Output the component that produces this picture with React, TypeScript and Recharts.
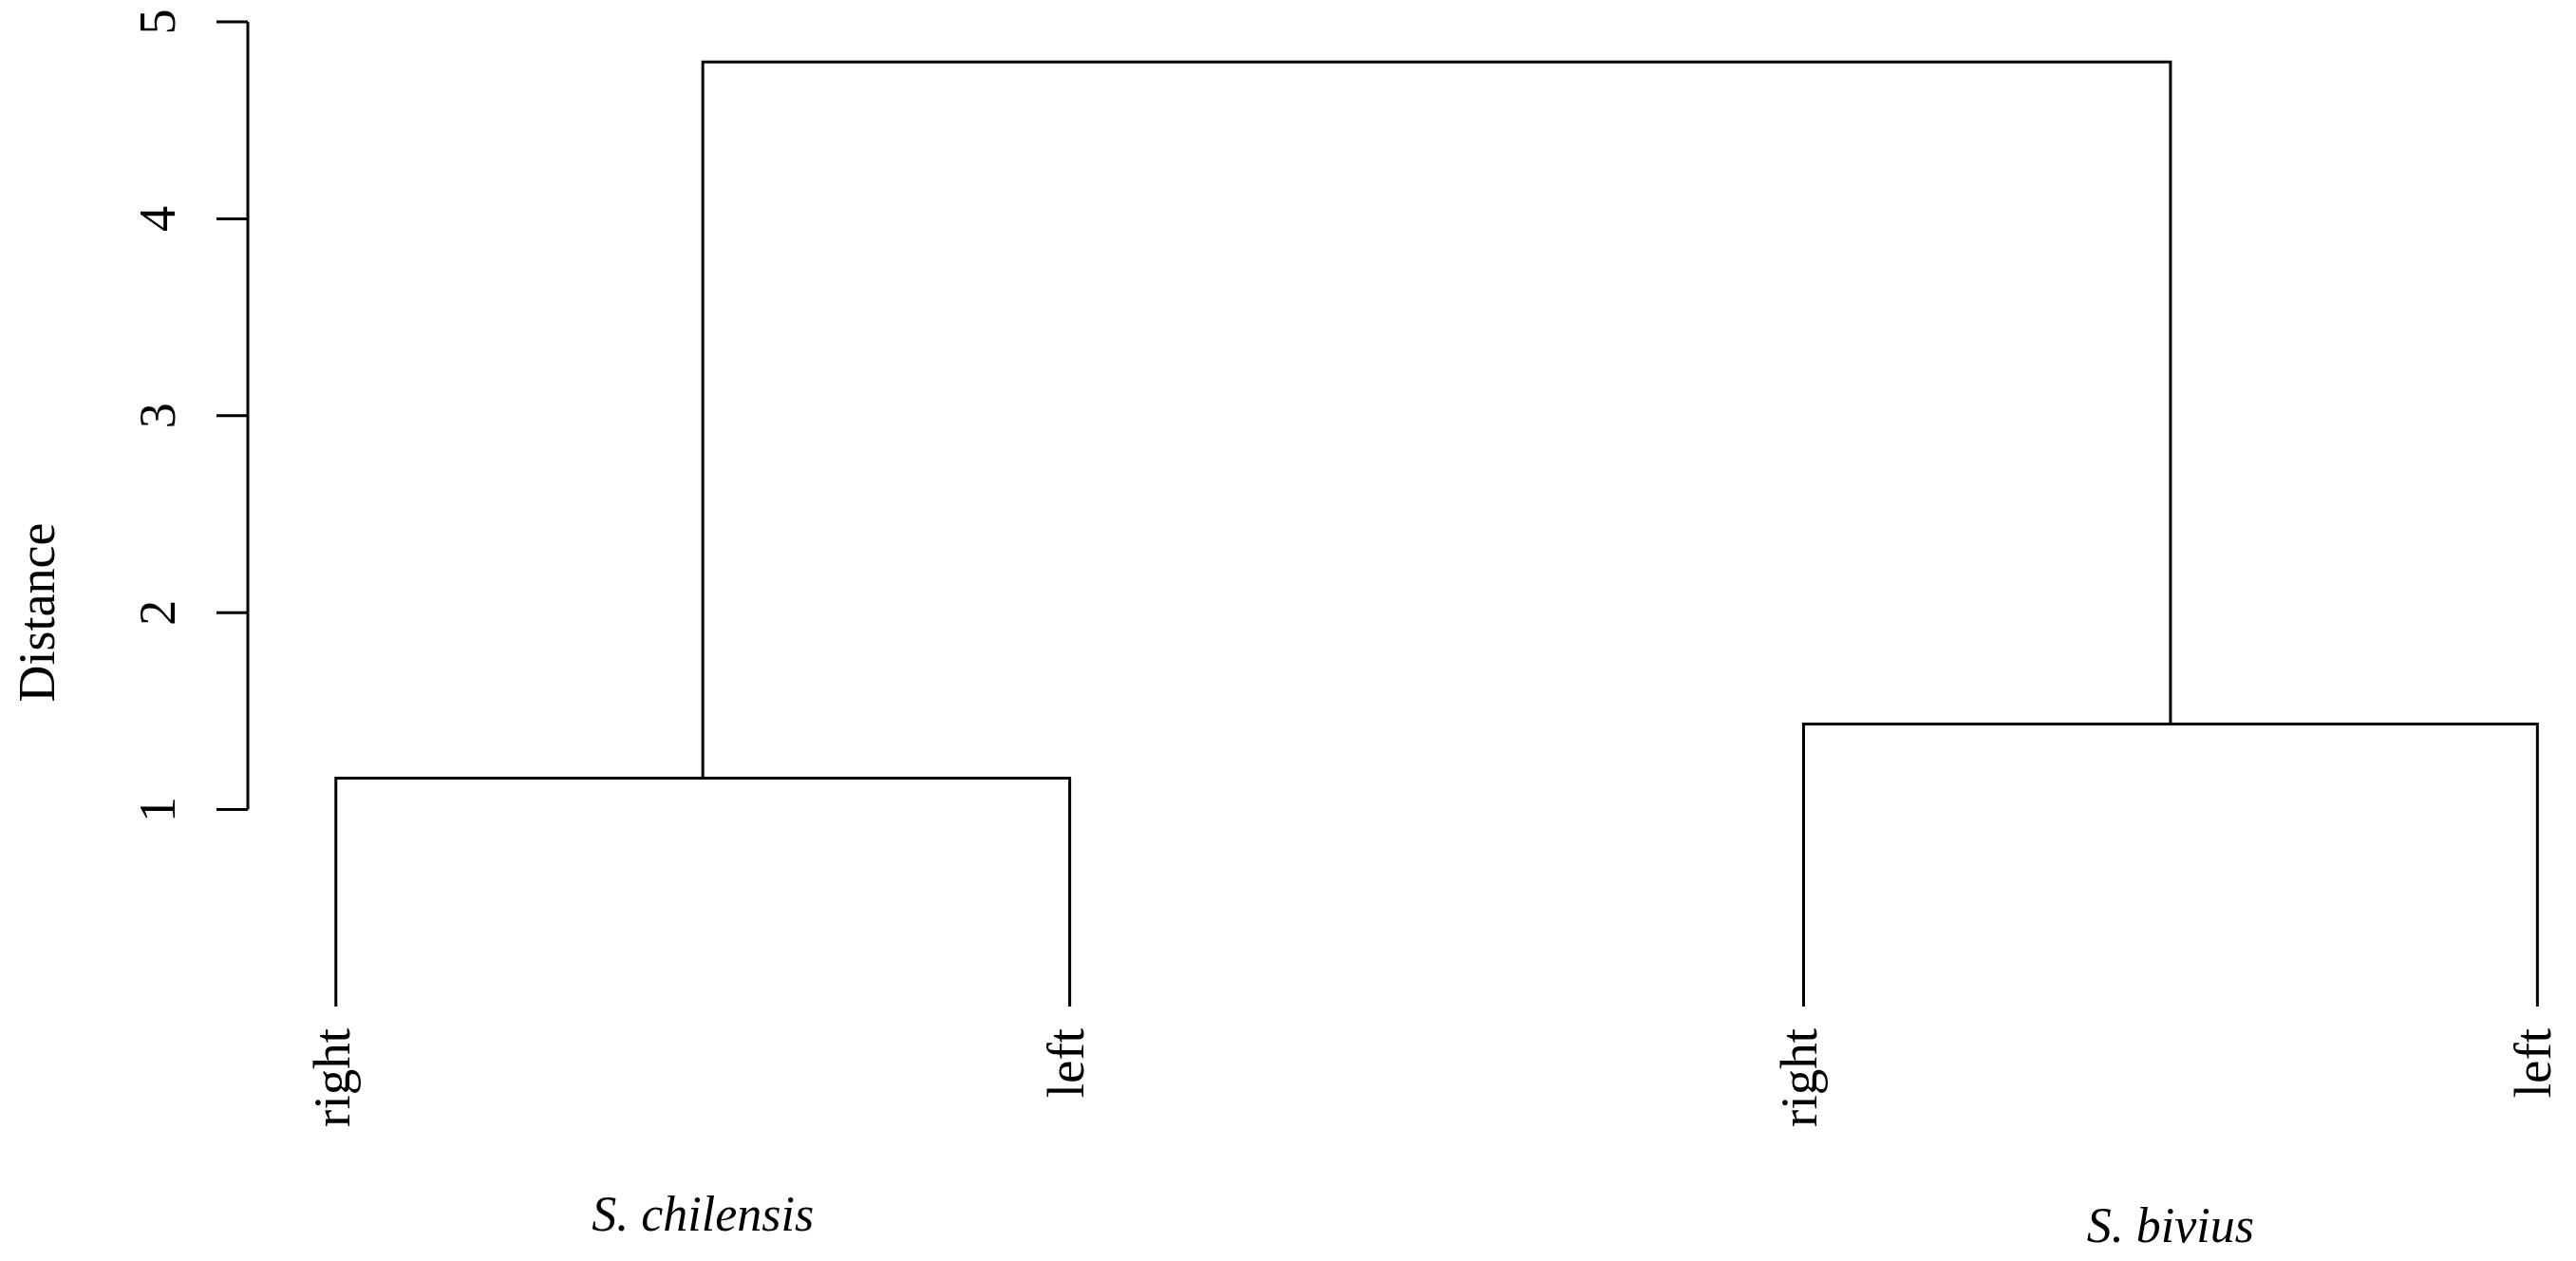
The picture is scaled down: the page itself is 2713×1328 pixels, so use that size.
import React from 'react';
import { LineChart, Line, XAxis, YAxis, ReferenceLine, ReferenceDot } from 'recharts';

// leaves in plotting order
const leafLabels = ['right', 'left', 'right', 'left'];
const speciesNames = ['S. chilensis', 'S. bivius'];
const yTicks = [1, 2, 3, 4, 5];
// heights at which clusters join
const mergeHeights = [1.16, 1.434, 4.796];
// joined nodes: negative = leaf number, positive = earlier merge number
const mergePairs = [
  [-1, -2],
  [-3, -4],
  [1, 2],
];

type Pt = { x: number; y: number };

const nodePos = (id: number): Pt => {
  if (id < 0) return { x: -id, y: 0 };
  const [a, b] = mergePairs[id - 1];
  const pa = nodePos(a);
  const pb = nodePos(b);
  return { x: (pa.x + pb.x) / 2, y: mergeHeights[id - 1] };
};

// one U-shaped link per merge
const links: Pt[][] = mergePairs.map(([a, b], i) => {
  const pa = nodePos(a);
  const pb = nodePos(b);
  const h = mergeHeights[i];
  return [
    { x: pa.x, y: pa.y },
    { x: pa.x, y: h },
    { x: pb.x, y: h },
    { x: pb.x, y: pb.y },
  ];
});

// species sit under the two lower clusters
const speciesPos = [nodePos(1), nodePos(2)];

const FONT = '"Liberation Serif", "Times New Roman", serif';
const X_MIN = 0.88;
const X_MAX = 4.05;

const YTick = (props: any) => {
  const { x, y, payload } = props;
  const bx = x - 42;
  return (
    <text
      x={bx}
      y={y}
      transform={`rotate(-90, ${bx}, ${y})`}
      textAnchor="middle"
      fontSize={54}
      fontFamily={FONT}
      fill="#000"
    >
      {payload.value}
    </text>
  );
};

const LeafTick = (props: any) => {
  const { x, y, payload } = props;
  const bx = x + 14;
  const by = y + 23;
  return (
    <text
      x={bx}
      y={by}
      transform={`rotate(-90, ${bx}, ${by})`}
      textAnchor="end"
      fontSize={55}
      fontFamily={FONT}
      fill="#000"
    >
      {leafLabels[payload.value - 1]}
    </text>
  );
};

const DistanceLabel = () => (
  <text
    x={57}
    y={645}
    transform="rotate(-90, 57, 645)"
    textAnchor="middle"
    fontSize={54}
    fontFamily={FONT}
    fill="#000"
  >
    Distance
  </text>
);

const speciesDrop = [236, 248];

const App: React.FC = () => {
  return (
    <div style={{ position: 'absolute', left: 0, top: 0, width: 2713, height: 1328, background: '#fff' }}>
      <LineChart width={2713} height={1328} margin={{ top: 23, right: 2, left: 0, bottom: 0 }}>
        <XAxis
          type="number"
          dataKey="x"
          domain={[X_MIN, X_MAX]}
          ticks={[1, 2, 3, 4]}
          interval={0}
          allowDataOverflow
          axisLine={false}
          tickLine={false}
          tickSize={0}
          tickMargin={0}
          height={268}
          tick={LeafTick}
        />
        <YAxis
          type="number"
          domain={[0, 5]}
          ticks={yTicks}
          interval={0}
          width={261}
          axisLine={false}
          tickSize={33}
          tickLine={{ stroke: '#000', strokeWidth: 3 }}
          tick={YTick}
          label={<DistanceLabel />}
        />
        <ReferenceLine
          segment={[
            { x: X_MIN, y: 1 },
            { x: X_MIN, y: 5 },
          ]}
          stroke="#000"
          strokeWidth={3}
          ifOverflow="visible"
        />
        {links.map((pts, i) => (
          <Line
            key={`link-${i}`}
            data={pts}
            dataKey="y"
            type="linear"
            stroke="#000"
            strokeWidth={3}
            dot={false}
            activeDot={false}
            isAnimationActive={false}
          />
        ))}
        {speciesNames.map((name, i) => (
          <ReferenceDot
            key={name}
            x={speciesPos[i].x}
            y={0}
            r={0}
            ifOverflow="visible"
            shape={(p: any) => (
              <text
                x={p.cx}
                y={p.cy + speciesDrop[i]}
                textAnchor="middle"
                fontSize={52}
                fontStyle="italic"
                fontFamily={FONT}
                fill="#000"
              >
                {name}
              </text>
            )}
          />
        ))}
      </LineChart>
    </div>
  );
};

export default App;
